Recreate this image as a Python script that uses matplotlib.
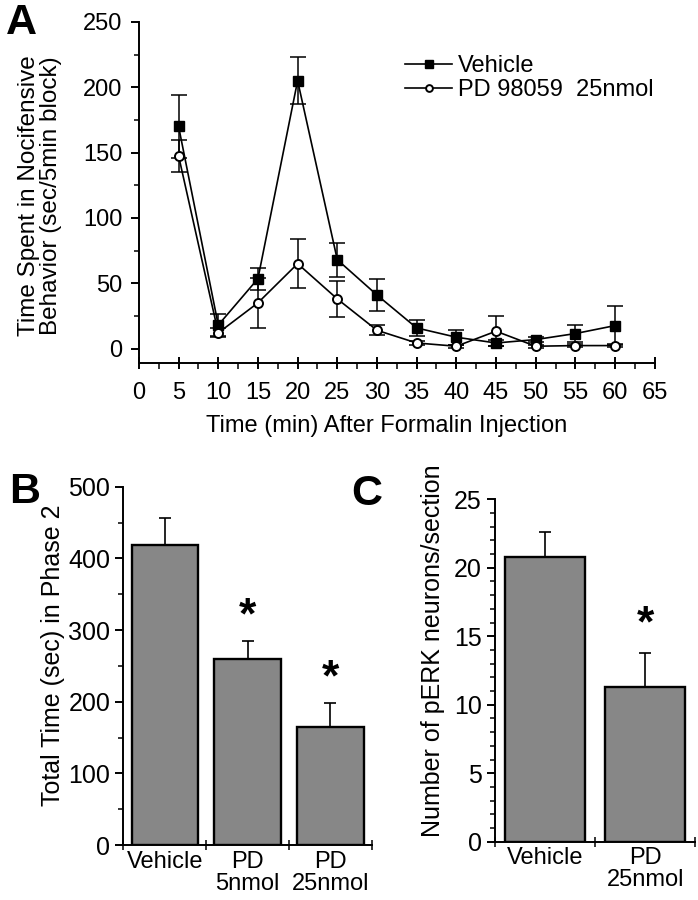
import matplotlib

matplotlib.use("Agg")
import matplotlib.pyplot as plt
import numpy as np
from matplotlib.ticker import MultipleLocator, FixedLocator


# Panel A: time course
time_min = [5, 10, 15, 20, 25, 30, 35, 40, 45, 50, 55, 60]
vehicle_mean = [170, 18, 53.5, 205, 68, 41, 15.8, 8.7, 4.3, 6.9, 11.5, 17.6]
vehicle_err = [24, 8.5, 8.5, 18, 13, 12.5, 6, 5.6, 2, 2, 6.6, 15]
pd_mean = [147.5, 12, 35, 65, 38, 14, 4.3, 1.8, 13.3, 1.8, 2.3, 2.3]
pd_err = [12, 3.5, 19, 19, 14, 3.8, 1.5, 1, 11.5, 1, 1, 1]

# Panel B: phase 2 totals
b_labels = ["Vehicle", "PD\n5nmol", "PD\n25nmol"]
b_mean = [418.5, 259.5, 164]
b_err = [37.5, 25, 33.5]
b_signif = [False, True, True]

# Panel C: pERK neuron counts
c_labels = ["Vehicle", "PD\n25nmol"]
c_mean = [20.8, 11.3]
c_err = [1.8, 2.45]
c_signif = [False, True]

BAR_GRAY = "#878787"

plt.rcParams["font.family"] = ["Liberation Sans", "DejaVu Sans"]
plt.rcParams["axes.linewidth"] = 1.4


def clean_axis(ax, labelsize):
    ax.spines["top"].set_visible(False)
    ax.spines["right"].set_visible(False)
    ax.tick_params(which="major", direction="out", length=6, width=1.4, labelsize=labelsize)
    ax.tick_params(which="minor", direction="out", length=3.5, width=1.1)


def bar_panel(ax, labels, means, errs, signif, star_gap):
    x = np.arange(len(labels))
    lower = np.zeros(len(means))
    ax.bar(x, means, width=0.8, color=BAR_GRAY, edgecolor="black", linewidth=1.7, zorder=2)
    ax.errorbar(x, means, yerr=[lower, errs], fmt="none", ecolor="black",
                elinewidth=1.2, capsize=4.5, capthick=1.2, zorder=1)
    for xi, m, e, s in zip(x, means, errs, signif):
        if s:
            ax.text(xi, m + e + star_gap, "*", ha="center", va="center",
                    fontsize=32, fontweight="bold")
    ax.set_xlim(-0.5, len(labels) - 0.5)
    ax.set_xticks(x)
    ax.set_xticklabels(labels, linespacing=1.0)
    ax.xaxis.set_minor_locator(FixedLocator(np.arange(len(labels) + 1) - 0.5))
    clean_axis(ax, 18)
    ax.tick_params(axis="x", which="major", length=0, pad=4, labelsize=17)
    ax.tick_params(axis="x", which="minor", direction="inout", length=7)


fig = plt.figure(figsize=(6.98, 9.0), dpi=100)

# ---- Panel A ----
ax_a = fig.add_axes([0.199, 0.5967, 0.739, 0.379])
ax_a.errorbar(time_min, vehicle_mean, yerr=vehicle_err, fmt="none", ecolor="black",
              elinewidth=1.1, capsize=6, capthick=1.1, zorder=1)
ax_a.errorbar(time_min, pd_mean, yerr=pd_err, fmt="none", ecolor="black",
              elinewidth=1.1, capsize=6, capthick=1.1, zorder=1)
ax_a.plot(time_min, vehicle_mean, color="black", linewidth=1.2, marker="s",
          markersize=7, markerfacecolor="black", markeredgecolor="black",
          label="Vehicle", zorder=3)
ax_a.plot(time_min, pd_mean, color="black", linewidth=1.2, marker="o",
          markersize=6.5, markerfacecolor="white", markeredgecolor="black",
          markeredgewidth=1.4, label="PD 98059  25nmol", zorder=4)
ax_a.set_xlim(0, 65)
ax_a.set_ylim(-11, 250)
ax_a.xaxis.set_major_locator(MultipleLocator(5))
ax_a.xaxis.set_minor_locator(MultipleLocator(2.5))
ax_a.yaxis.set_major_locator(FixedLocator([0, 50, 100, 150, 200, 250]))
ax_a.yaxis.set_minor_locator(FixedLocator([25, 75, 125, 175, 225]))
clean_axis(ax_a, 17)
ax_a.tick_params(axis="x", which="major", direction="inout", length=9, pad=9)
ax_a.tick_params(axis="x", which="minor", direction="out", length=4)
ax_a.tick_params(axis="y", pad=6)
ax_a.legend(loc="upper left", bbox_to_anchor=(405 / 698, 1 - 55 / 900),
            bbox_transform=fig.transFigure, frameon=False, fontsize=17,
            borderpad=0, borderaxespad=0, handlelength=2.0, handletextpad=0.25,
            labelspacing=0.1, markerscale=0.75)

fig.text(387 / 698, 1 - 426 / 900, "Time (min) After Formalin Injection",
         ha="center", va="center", fontsize=17)
fig.text(40 / 698, 1 - 196 / 900, "Time Spent in Nocifensive\nBehavior (sec/5min block)",
         ha="center", va="center", rotation=90, fontsize=17.5, linespacing=1.05)

# ---- Panel B ----
ax_b = fig.add_axes([0.1767, 0.0611, 0.356, 0.3981])
bar_panel(ax_b, b_labels, b_mean, b_err, b_signif, star_gap=34)
ax_b.set_ylim(0, 500)
ax_b.yaxis.set_major_locator(MultipleLocator(100))
ax_b.yaxis.set_minor_locator(MultipleLocator(50))
fig.text(53 / 698, 1 - 655 / 900, "Total Time (sec) in Phase 2",
         ha="center", va="center", rotation=90, fontsize=18)

# ---- Panel C ----
ax_c = fig.add_axes([0.709, 0.0648, 0.287, 0.3804])
bar_panel(ax_c, c_labels, c_mean, c_err, c_signif, star_gap=2.1)
ax_c.set_ylim(0, 25)
ax_c.yaxis.set_major_locator(MultipleLocator(5))
ax_c.yaxis.set_minor_locator(MultipleLocator(1))
fig.text(433 / 698, 1 - 651 / 900, "Number of pERK neurons/section",
         ha="center", va="center", rotation=90, fontsize=18)

# panel letters
fig.text(6 / 698, 1 - 34 / 900, "A", fontsize=31, fontweight="bold", va="baseline")
fig.text(9 / 698, 1 - 503 / 900, "B", fontsize=31, fontweight="bold", va="baseline")
fig.text(351 / 698, 1 - 505 / 900, "C", fontsize=31, fontweight="bold", va="baseline")

fig.savefig("out.png", dpi=100)
plt.close(fig)
